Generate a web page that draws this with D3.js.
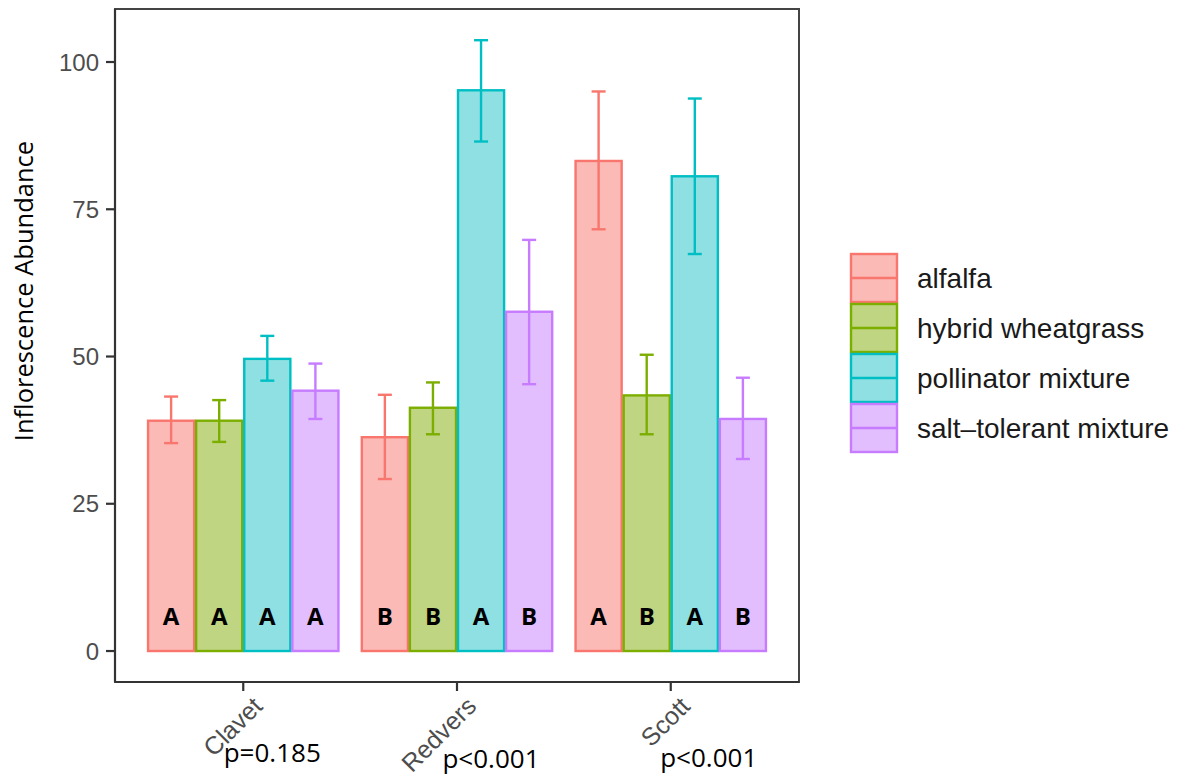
<!DOCTYPE html>
<html>
<head>
<meta charset="utf-8">
<script src="https://cdn.jsdelivr.net/npm/d3@7"></script>
<style>
  body { margin: 0; background: #fff; }
</style>
</head>
<body>
<script>
// data
var sites = ["Clavet", "Redvers", "Scott"]
var treatments = ["alfalfa", "hybrid wheatgrass", "pollinator mixture", "salt\u2013tolerant mixture"]
var means = [
  [39.1, 39.1, 49.6, 44.2],
  [36.3, 41.3, 95.2, 57.6],
  [83.2, 43.4, 80.6, 39.4]
]
var upper = [
  [43.2, 42.6, 53.5, 48.8],
  [43.5, 45.6, 103.7, 69.8],
  [95.0, 50.3, 93.8, 46.4]
]
var lower = [
  [35.3, 35.5, 45.9, 39.4],
  [29.2, 36.8, 86.5, 45.3],
  [71.6, 36.8, 67.4, 32.6]
]
var letters = [
  ["A", "A", "A", "A"],
  ["B", "B", "A", "B"],
  ["A", "B", "A", "B"]
]
var pvalues = ["p=0.185", "p<0.001", "p<0.001"]
var yTicks = [0, 25, 50, 75, 100]
var strokeColors = ["#F8766D", "#7CAE00", "#00BFC4", "#C77CFF"]
var fillColors = ["#FBBAB6", "#BFD581", "#8EE0E2", "#E3BEFF"]

var W = 1185, H = 778
var panel = { left: 115, top: 9, right: 799, bottom: 682 }
var sans = "'Liberation Sans', Arial, sans-serif"
var office = "'Open Sans', Lato, sans-serif"

var svg = d3.select("body").append("svg")
  .attr("width", W)
  .attr("height", H)

// ggplot style discrete axis: 0.6 unit expansion on each side, groups 0.9 wide
var unit = (panel.right - panel.left) / (sites.length - 1 + 1.2)
var x = d3.scalePoint()
  .domain(sites)
  .range([panel.left + 0.6 * unit, panel.right - 0.6 * unit])
var xInner = d3.scaleBand()
  .domain(treatments)
  .range([-0.45 * unit, 0.45 * unit])

var y = d3.scaleLinear()
  .domain([-5.26, 109.0])
  .range([panel.bottom, panel.top])

// panel frame
svg.append("rect")
  .attr("x", panel.left)
  .attr("y", panel.top)
  .attr("width", panel.right - panel.left)
  .attr("height", panel.bottom - panel.top)
  .attr("fill", "none")
  .attr("stroke", "#444")
  .attr("stroke-width", 2)

var groups = svg.selectAll("g.site")
  .data(sites)
  .enter()
  .append("g")
  .attr("class", "site")
  .attr("transform", function (d) { return "translate(" + x(d) + ",0)" })

// bars
groups.each(function (s, si) {
  var g = d3.select(this)
  treatments.forEach(function (t, ti) {
    var bx = xInner(t), bw = xInner.bandwidth()
    g.append("rect")
      .attr("x", bx + 1)
      .attr("y", y(means[si][ti]))
      .attr("width", bw - 2)
      .attr("height", y(0) - y(means[si][ti]))
      .attr("fill", fillColors[ti])
      .attr("stroke", strokeColors[ti])
      .attr("stroke-width", 2.4)
  })
})

// error bars and letters
groups.each(function (s, si) {
  var g = d3.select(this)
  treatments.forEach(function (t, ti) {
    var cx = xInner(t) + xInner.bandwidth() / 2
    var cap = 7
    var eb = g.append("g")
      .attr("stroke", strokeColors[ti])
      .attr("stroke-width", 2.4)
    eb.append("line")
      .attr("x1", cx).attr("x2", cx)
      .attr("y1", y(upper[si][ti])).attr("y2", y(lower[si][ti]))
    eb.append("line")
      .attr("x1", cx - cap).attr("x2", cx + cap)
      .attr("y1", y(upper[si][ti])).attr("y2", y(upper[si][ti]))
    eb.append("line")
      .attr("x1", cx - cap).attr("x2", cx + cap)
      .attr("y1", y(lower[si][ti])).attr("y2", y(lower[si][ti]))
    g.append("text")
      .attr("x", cx)
      .attr("y", y(0) - 35)
      .attr("dy", "0.36em")
      .attr("text-anchor", "middle")
      .style("font-family", office)
      .style("font-weight", "bold")
      .style("font-size", "24px")
      .attr("fill", "#000")
      .text(letters[si][ti])
  })
})

// y axis
svg.append("line")
  .attr("x1", panel.left).attr("x2", panel.left)
  .attr("y1", panel.top).attr("y2", panel.bottom)
  .attr("stroke", "#333").attr("stroke-width", 2.2)
svg.selectAll("g.ytick")
  .data(yTicks)
  .enter()
  .append("g")
  .attr("class", "ytick")
  .each(function (d) {
    var g = d3.select(this)
    g.append("line")
      .attr("x1", panel.left - 9).attr("x2", panel.left)
      .attr("y1", y(d)).attr("y2", y(d))
      .attr("stroke", "#333").attr("stroke-width", 2.2)
    g.append("text")
      .attr("x", panel.left - 16)
      .attr("y", y(d))
      .attr("dy", "0.36em")
      .attr("text-anchor", "end")
      .style("font-family", sans)
      .style("font-size", "24px")
      .attr("fill", "#4D4D4D")
      .text(d)
  })

svg.append("text")
  .attr("transform", "translate(33,291) rotate(-90)")
  .attr("text-anchor", "middle")
  .style("font-family", office)
  .style("font-size", "25.5px")
  .attr("fill", "#000")
  .text("Inflorescence Abundance")

// x axis
svg.append("line")
  .attr("x1", panel.left).attr("x2", panel.right)
  .attr("y1", panel.bottom).attr("y2", panel.bottom)
  .attr("stroke", "#333").attr("stroke-width", 2.2)
var pShift = [29, 34, 38]
var pDrop = [80, 86, 85]
svg.selectAll("g.xtick")
  .data(sites)
  .enter()
  .append("g")
  .attr("class", "xtick")
  .each(function (d, i) {
    var g = d3.select(this)
    var cx = x(d)
    g.append("line")
      .attr("x1", cx).attr("x2", cx)
      .attr("y1", panel.bottom).attr("y2", panel.bottom + 9)
      .attr("stroke", "#333").attr("stroke-width", 2.2)
    g.append("text")
      .attr("transform", "translate(" + (cx + 8) + "," + (panel.bottom + 13) + ") rotate(-45)")
      .attr("text-anchor", "end")
      .attr("dy", "0.72em")
      .style("font-family", sans)
      .style("font-size", "25px")
      .attr("fill", "#4D4D4D")
      .text(d)
    g.append("text")
      .attr("x", cx + pShift[i])
      .attr("y", panel.bottom + pDrop[i])
      .attr("text-anchor", "middle")
      .style("font-family", office)
      .style("font-size", "26px")
      .attr("fill", "#000")
      .text(pvalues[i])
  })

// legend
var legend = svg.append("g")
  .attr("transform", "translate(850,253)")
var keyH = 50
treatments.forEach(function (t, i) {
  var k = legend.append("g").attr("transform", "translate(0," + (i * keyH) + ")")
  k.append("rect")
    .attr("x", 1).attr("y", 1)
    .attr("width", 46).attr("height", keyH - 2)
    .attr("fill", fillColors[i])
    .attr("stroke", strokeColors[i])
    .attr("stroke-width", 2.4)
  k.append("line")
    .attr("x1", 1).attr("x2", 47)
    .attr("y1", keyH / 2).attr("y2", keyH / 2)
    .attr("stroke", strokeColors[i])
    .attr("stroke-width", 2.4)
  k.append("text")
    .attr("x", 67)
    .attr("y", keyH / 2)
    .attr("dy", "0.36em")
    .style("font-family", sans)
    .style("font-size", "28px")
    .attr("fill", "#1a1a1a")
    .text(t)
})
</script>
</body>
</html>
